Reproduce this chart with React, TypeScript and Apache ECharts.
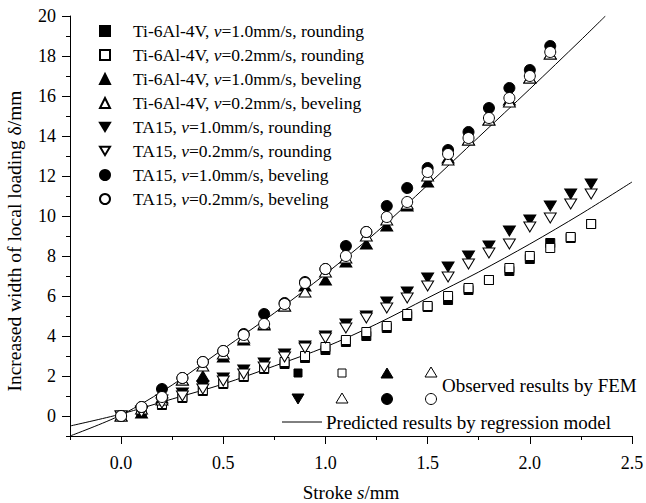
import React, { useEffect, useRef } from "react";
import * as echarts from "echarts";

// Stroke values (mm)
const strokeRound = [0, 0.1, 0.2, 0.3, 0.4, 0.5, 0.6, 0.7, 0.8, 0.9, 1.0, 1.1, 1.2, 1.3, 1.4, 1.5, 1.6, 1.7, 1.8, 1.9, 2.0, 2.1, 2.2, 2.3];
const strokeBevel = [0, 0.1, 0.2, 0.3, 0.4, 0.5, 0.6, 0.7, 0.8, 0.9, 1.0, 1.1, 1.2, 1.3, 1.4, 1.5, 1.6, 1.7, 1.8, 1.9, 2.0, 2.1];

// Observed results (FEM), increased width δ (mm)
const ti10Round = [0, 0.15, 0.55, 0.9, 1.25, 1.6, 1.95, 2.35, 2.6, 2.9, 3.3, 3.7, 4.0, 4.4, 5.0, 5.45, 5.8, 6.3, 6.8, 7.25, 7.85, 8.65, 8.9, 9.6];
const ti02Round = [0, 0.2, 0.6, 0.95, 1.3, 1.65, 2.0, 2.4, 2.7, 3.0, 3.45, 3.8, 4.2, 4.5, 5.1, 5.5, 6.0, 6.4, 6.8, 7.4, 8.0, 8.4, 8.95, 9.6];
const ti10Bevel = [0, 0.15, 0.9, 1.8, 2.0, 2.95, 3.8, 4.55, 5.5, 6.5, 6.8, 7.7, 8.6, 9.5, 10.5, 11.7, 12.9, 13.8, 14.8, 15.8, 16.9, 18.1];
const ti02Bevel = [0, 0.35, 0.8, 1.8, 2.5, 3.1, 3.9, 4.6, 5.5, 6.2, 7.2, 7.9, 9.0, 9.8, 10.6, 12.0, 12.8, 13.8, 14.8, 15.7, 16.9, 18.1];
const ta10Round = [0, 0.25, 0.8, 1.15, 1.5, 1.9, 2.3, 2.65, 3.1, 3.5, 4.0, 4.6, 5.0, 5.7, 6.2, 6.9, 7.45, 8.0, 8.5, 9.25, 9.8, 10.5, 11.1, 11.6];
const ta02Round = [0, 0.2, 0.65, 1.0, 1.35, 1.75, 2.1, 2.45, 2.95, 3.4, 3.9, 4.4, 4.9, 5.4, 5.9, 6.5, 6.95, 7.6, 8.15, 8.6, 9.45, 9.9, 10.6, 11.1];
const ta10Bevel = [0, 0.45, 1.35, 1.9, 2.7, 3.25, 4.1, 5.1, 5.65, 6.7, 7.35, 8.5, 9.2, 10.5, 11.4, 12.4, 13.3, 14.2, 15.4, 16.4, 17.3, 18.5];
const ta02Bevel = [0, 0.45, 0.95, 1.9, 2.7, 3.25, 4.05, 4.6, 5.6, 6.65, 7.35, 8.0, 9.2, 9.95, 10.7, 12.2, 13.1, 13.9, 14.9, 15.9, 17.0, 18.2];

// Predicted results by regression model
const predRoundS = [-0.25, 0, 0.25, 0.5, 0.75, 1.0, 1.25, 1.5, 1.75, 2.0, 2.25, 2.5];
const predRoundD = [-0.5, 0.1, 0.85, 1.6, 2.5, 3.45, 4.6, 5.9, 7.2, 8.6, 10.1, 11.7];
const predBevelS = [-0.25, 0, 0.25, 0.5, 0.75, 1.0, 1.25, 1.5, 1.75, 2.0, 2.25, 2.37];
const predBevelD = [-1.0, 0.05, 1.55, 3.35, 5.15, 7.1, 9.2, 11.55, 13.95, 16.35, 18.8, 20.0];

// Axis ticks
const xMajor = [0, 0.5, 1.0, 1.5, 2.0, 2.5];
const xMinor = [-0.25, 0.25, 0.75, 1.25, 1.75, 2.25];
const yMajor = [0, 2, 4, 6, 8, 10, 12, 14, 16, 18, 20];
const yMinor = [-1, 1, 3, 5, 7, 9, 11, 13, 15, 17, 19];

const FONT = "'Liberation Serif', 'DejaVu Serif', serif";

const zip = (xs: number[], ys: number[]) => xs.map((x, i) => [x, ys[i]]);

type Def = { name: string; symbol: string; size: number | number[]; open: boolean; xs: number[]; ys: number[] };

const DOWN = "path://M0,0L12,0L6,10Z";

const defs: Def[] = [
  { name: "Ti-6Al-4V, v=1.0mm/s, rounding", symbol: "rect", size: 9, open: false, xs: strokeRound, ys: ti10Round },
  { name: "Ti-6Al-4V, v=0.2mm/s, rounding", symbol: "rect", size: 9, open: true, xs: strokeRound, ys: ti02Round },
  { name: "Ti-6Al-4V, v=1.0mm/s, beveling", symbol: "triangle", size: [12, 10], open: false, xs: strokeBevel, ys: ti10Bevel },
  { name: "Ti-6Al-4V, v=0.2mm/s, beveling", symbol: "triangle", size: [12, 10], open: true, xs: strokeBevel, ys: ti02Bevel },
  { name: "TA15, v=1.0mm/s, rounding", symbol: DOWN, size: [12, 10], open: false, xs: strokeRound, ys: ta10Round },
  { name: "TA15, v=0.2mm/s, rounding", symbol: DOWN, size: [12, 10], open: true, xs: strokeRound, ys: ta02Round },
  { name: "TA15, v=1.0mm/s, beveling", symbol: "circle", size: 11, open: false, xs: strokeBevel, ys: ta10Bevel },
  { name: "TA15, v=0.2mm/s, beveling", symbol: "circle", size: 11, open: true, xs: strokeBevel, ys: ta02Bevel },
];

export default function App() {
  const ref = useRef<HTMLDivElement>(null);
  useEffect(() => {
    const chart = echarts.init(ref.current!, null, { renderer: "svg" });
    const black = "#000";
    const upTri = (cx: number, cy: number) => [[cx - 6, cy + 5], [cx + 6, cy + 5], [cx, cy - 5]];
    const downTri = (cx: number, cy: number) => [[cx - 6, cy - 5], [cx + 6, cy - 5], [cx, cy + 5]];
    const r1 = 373, r2 = 399;
    const option: any = {
      animation: false,
      backgroundColor: "#fff",
      grid: { left: 70, right: 14, top: 16, bottom: 67, containLabel: false, outerBoundsMode: "none" },
      legend: {
        show: true,
        orient: "vertical",
        left: 99,
        top: 21,
        padding: 0,
        itemWidth: 10,
        itemHeight: 10,
        itemGap: 4,
        symbolKeepAspect: true,
        selectedMode: false,
        data: defs.map((d) => ({ name: d.name, icon: d.symbol })),
        formatter: (n: string) => n.replace("v=", "{i|v}="),
        textStyle: {
          color: black,
          fontFamily: FONT,
          fontSize: 17.5,
          lineHeight: 20,
          padding: [0, 0, 0, 18],
          rich: { i: { fontStyle: "italic", fontFamily: FONT, fontSize: 17.5, color: black } },
        },
      },
      xAxis: [
        {
          type: "value",
          min: -0.25,
          max: 2.5,
          position: "bottom",
          axisLine: { show: true, onZero: false, lineStyle: { color: black, width: 1 } },
          axisTick: { show: true, customValues: xMajor, length: 8, inside: false, lineStyle: { color: black } },
          axisLabel: {
            customValues: xMajor,
            formatter: (v: number) => v.toFixed(1),
            color: black,
            fontFamily: FONT,
            fontSize: 18,
            margin: 18,
          },
          splitLine: { show: false },
          name: "Stroke {i|s}/mm",
          nameLocation: "middle",
          nameGap: 47,
          nameTextStyle: {
            color: black,
            fontFamily: FONT,
            fontSize: 19,
            rich: { i: { fontStyle: "italic", fontFamily: FONT, fontSize: 19, color: black } },
          },
        },
        {
          type: "value",
          min: -0.25,
          max: 2.5,
          position: "bottom",
          axisLine: { show: false, onZero: false },
          axisTick: { show: true, customValues: xMinor, length: 4, inside: false, lineStyle: { color: black } },
          axisLabel: { show: false },
          splitLine: { show: false },
        },
      ],
      yAxis: [
        {
          type: "value",
          min: -1,
          max: 20,
          position: "left",
          axisLine: { show: true, onZero: false, lineStyle: { color: black, width: 1 } },
          axisTick: { show: true, customValues: yMajor, length: 8, inside: false, lineStyle: { color: black } },
          axisLabel: { customValues: yMajor, color: black, fontFamily: FONT, fontSize: 18, margin: 14 },
          splitLine: { show: false },
          name: "Increased width of local loading δ/mm",
          nameLocation: "middle",
          nameGap: 46,
          nameTextStyle: { color: black, fontFamily: FONT, fontSize: 19.5, padding: [0, 30, 0, 0] },
        },
        {
          type: "value",
          min: -1,
          max: 20,
          position: "left",
          axisLine: { show: false, onZero: false },
          axisTick: { show: true, customValues: yMinor, length: 4, inside: false, lineStyle: { color: black } },
          axisLabel: { show: false },
          splitLine: { show: false },
        },
      ],
      series: [
        {
          type: "line",
          name: "Predicted rounding",
          data: zip(predRoundS, predRoundD),
          smooth: 0.3,
          symbol: "none",
          lineStyle: { color: black, width: 1 },
          silent: true,
          z: 1,
        },
        {
          type: "line",
          name: "Predicted beveling",
          data: zip(predBevelS, predBevelD),
          smooth: 0.3,
          symbol: "none",
          lineStyle: { color: black, width: 1 },
          silent: true,
          z: 1,
        },
        ...defs.map((d, k) => ({
          type: "scatter",
          name: d.name,
          data: zip(d.xs, d.ys),
          symbol: d.symbol,
          symbolSize: d.size,
          itemStyle: d.open
            ? { color: "#fff", borderColor: black, borderWidth: 1, opacity: 1 }
            : { color: black, borderColor: black, borderWidth: 1, opacity: 1 },
          z: 2 + k,
          silent: true,
        })),
      ],
      graphic: [
        { type: "rect", shape: { x: 294, y: r1 - 4, width: 8, height: 8 }, style: { fill: black, stroke: black, lineWidth: 1 } },
        { type: "rect", shape: { x: 338, y: r1 - 4, width: 8, height: 8 }, style: { fill: "#fff", stroke: black, lineWidth: 1 } },
        { type: "polygon", shape: { points: upTri(387, r1) }, style: { fill: black, stroke: black, lineWidth: 1 } },
        { type: "polygon", shape: { points: upTri(431, r1 - 1) }, style: { fill: "#fff", stroke: black, lineWidth: 1 } },
        { type: "polygon", shape: { points: downTri(298, r2) }, style: { fill: black, stroke: black, lineWidth: 1 } },
        { type: "polygon", shape: { points: upTri(342, r2 - 1) }, style: { fill: "#fff", stroke: black, lineWidth: 1 } },
        { type: "circle", shape: { cx: 387, cy: r2, r: 5.5 }, style: { fill: black, stroke: black, lineWidth: 1 } },
        { type: "circle", shape: { cx: 431, cy: r2, r: 5.5 }, style: { fill: "#fff", stroke: black, lineWidth: 1 } },
        {
          type: "text",
          x: 442,
          y: 385,
          style: { text: "Observed results by FEM", fill: black, font: `19px ${FONT}`, verticalAlign: "middle" },
        },
        { type: "line", shape: { x1: 282, y1: 422, x2: 322, y2: 422 }, style: { stroke: black, lineWidth: 1 } },
        {
          type: "text",
          x: 326,
          y: 422,
          style: { text: "Predicted results by regression model", fill: black, font: `19px ${FONT}`, verticalAlign: "middle" },
        },
      ],
    };
    chart.setOption(option);
    return () => chart.dispose();
  }, []);
  return (
    <div
      ref={ref}
      style={{ position: "fixed", left: 0, top: 0, width: 646, height: 503, background: "#fff" }}
    />
  );
}
